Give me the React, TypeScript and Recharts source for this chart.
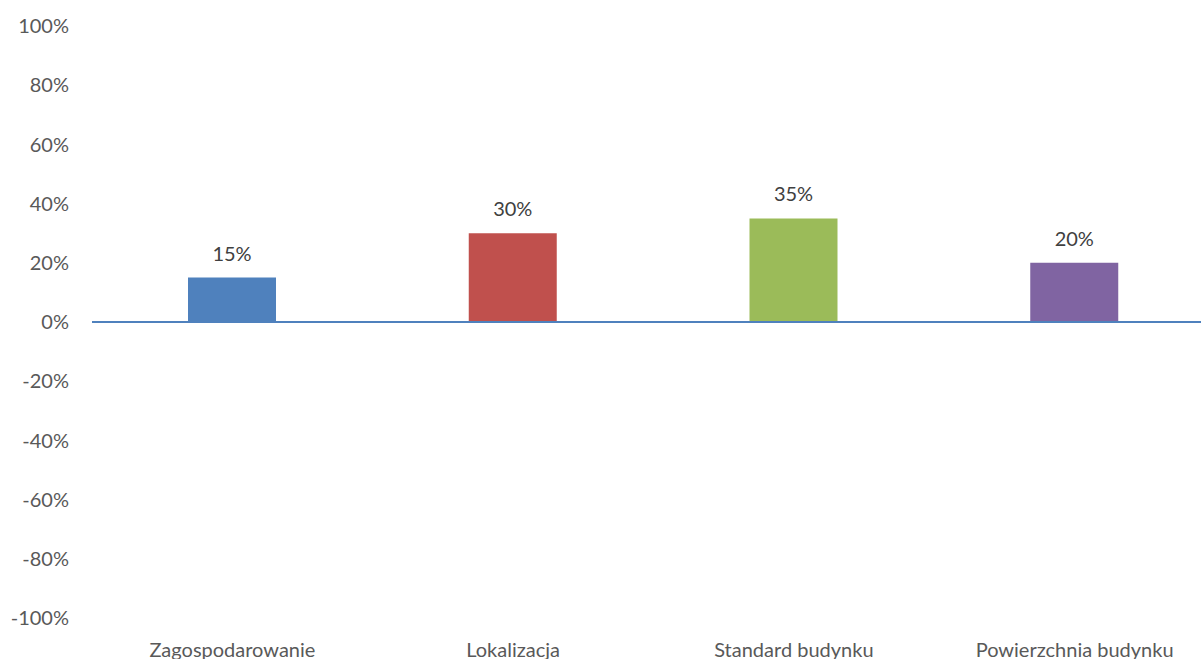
import { BarChart, Bar, XAxis, YAxis, Cell, LabelList, ReferenceLine } from 'recharts'

const KATEGORIE = ['Zagospodarowanie', 'Lokalizacja', 'Standard budynku', 'Powierzchnia budynku']
const UDZIAL = [0.15, 0.3, 0.35, 0.2]
const KOLORY = ['#4F81BD', '#C0504D', '#9BBB59', '#8064A2']
const Y_TICKI = [-1, -0.8, -0.6, -0.4, -0.2, 0, 0.2, 0.4, 0.6, 0.8, 1]

const data = KATEGORIE.map((nazwa, i) => ({ nazwa, udzial: UDZIAL[i] }))

const FONT = 'Lato, "Open Sans", sans-serif'
const procent = (v: number) => `${Math.round(v * 100)}%`

export default function App() {
  return (
    <div
      style={{
        position: 'absolute',
        left: 0,
        top: 0,
        width: 1201,
        height: 659,
        overflow: 'hidden',
        background: '#fff',
        fontFamily: FONT,
      }}
    >
      <BarChart
        width={1215}
        height={680}
        data={data}
        margin={{ top: 26, right: 0, left: 0, bottom: 0 }}
      >
        <XAxis
          dataKey="nazwa"
          axisLine={false}
          tickLine={false}
          tickSize={0}
          tickMargin={25}
          height={62}
          interval={0}
          tick={{ fontSize: 20, fill: '#595959', fontFamily: FONT }}
        />
        <YAxis
          domain={[-1, 1]}
          ticks={Y_TICKI}
          tickFormatter={procent}
          axisLine={false}
          tickLine={false}
          tickSize={0}
          tickMargin={23}
          width={92}
          interval={0}
          tick={{ fontSize: 20, fill: '#595959', fontFamily: FONT }}
        />
        <Bar dataKey="udzial" barSize={88} isAnimationActive={false}>
          {data.map((d, i) => (
            <Cell key={d.nazwa} fill={KOLORY[i]} />
          ))}
          <LabelList
            dataKey="udzial"
            position="top"
            offset={17}
            formatter={(v: any) => procent(Number(v))}
            style={{ fontSize: 20, fill: '#404040', fontFamily: FONT }}
          />
        </Bar>
        <ReferenceLine y={0} stroke="#4F81BD" strokeWidth={2} />
      </BarChart>
    </div>
  )
}
